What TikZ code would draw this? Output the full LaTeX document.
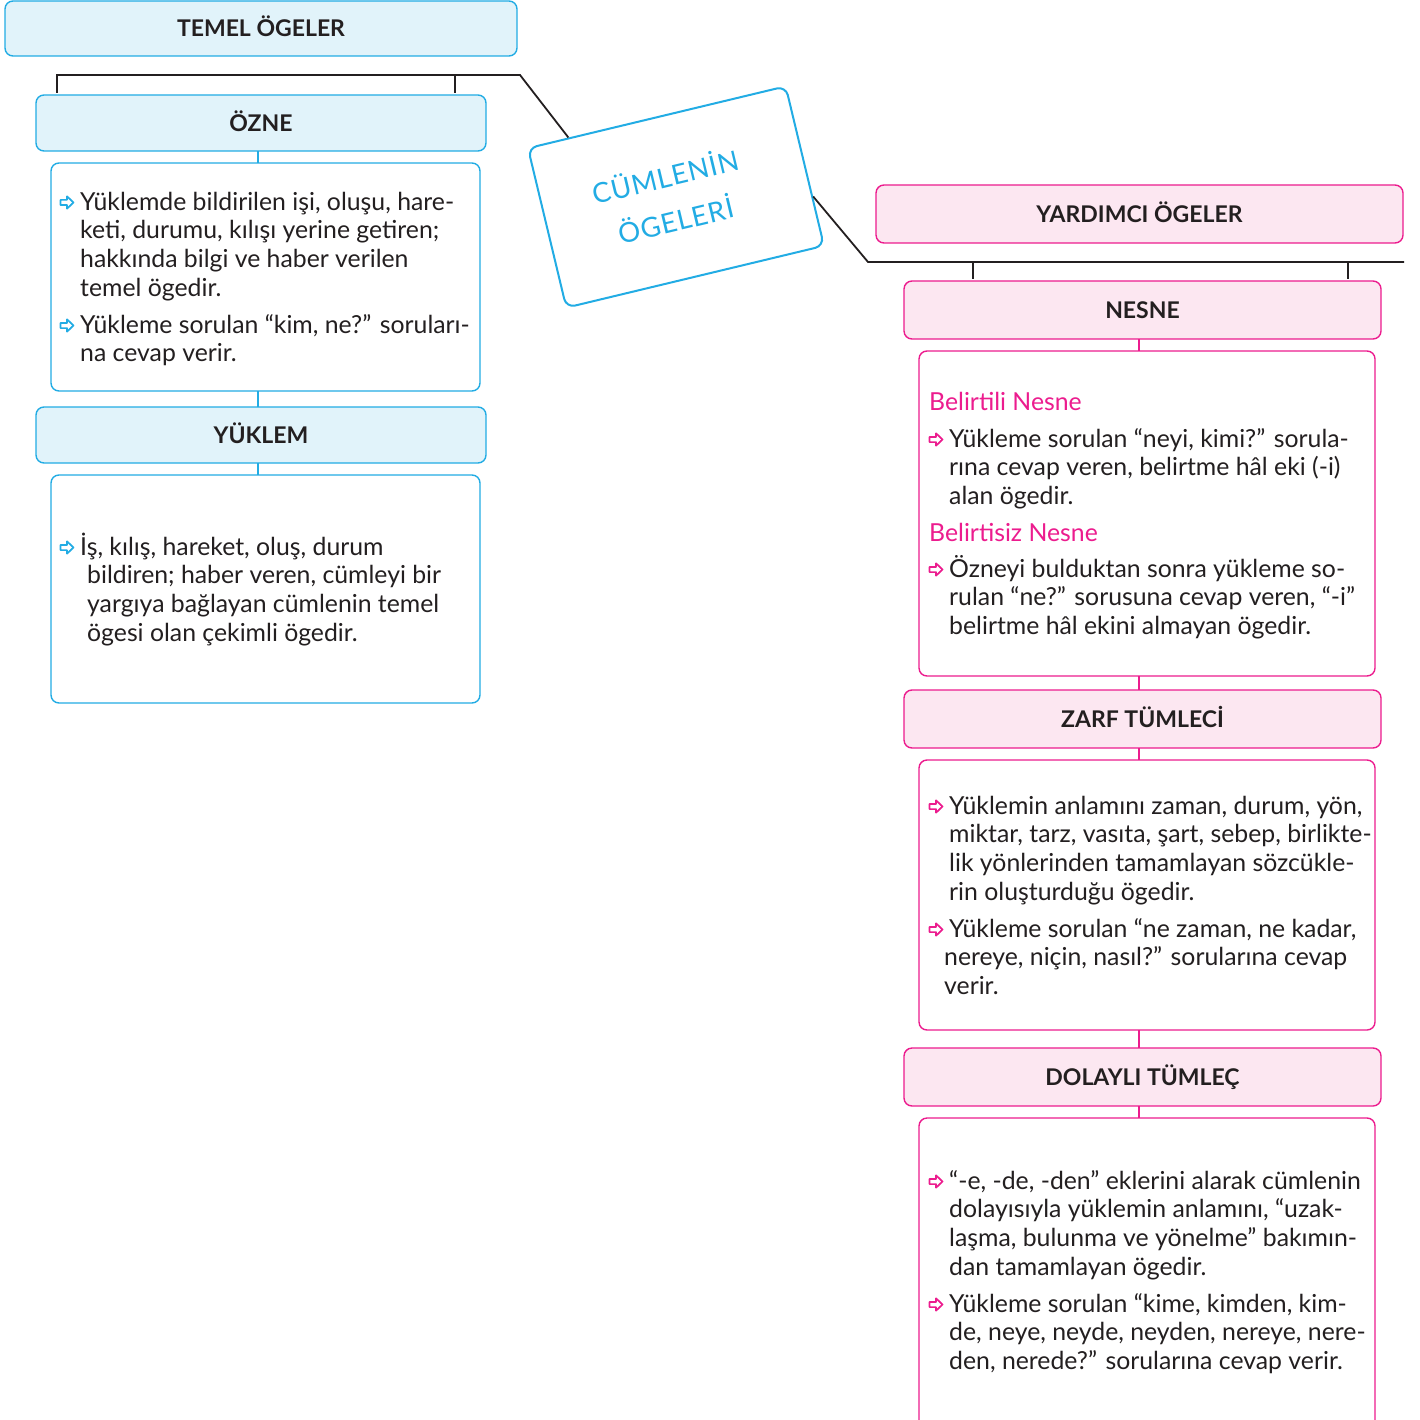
\documentclass[tikz,border=0pt]{standalone}
\usepackage{fontspec}
\setmainfont{Lato}
\newfontfamily\cardfont[LetterSpace=3]{Lato}
\usetikzlibrary{calc}
\definecolor{cyanb}{HTML}{22ACE4}
\definecolor{cyanf}{HTML}{E1F3FA}
\definecolor{magb}{HTML}{EC1C8E}
\definecolor{magf}{HTML}{FCE7F1}
\definecolor{ink}{HTML}{231F20}
\tikzset{
  box/.style={draw, rounded corners=8pt, line width=1.4pt, inner sep=0pt},
  headtxt/.style={font=\fontsize{23}{26}\selectfont\bfseries, text=ink, text height=16.5pt, text depth=0pt},
  bluehead/.style={box, draw=cyanb, fill=cyanf, headtxt},
  pinkhead/.style={box, draw=magb, fill=magf, headtxt},
  bluebody/.style={box, draw=cyanb, fill=white},
  pinkbody/.style={box, draw=magb, fill=white},
  bconn/.style={draw=cyanb, line width=2.6pt},
  pconn/.style={draw=magb, line width=2.6pt},
  bracket/.style={draw=ink, line width=1.8pt},
  % multi-line nodes: anchored at the baseline of their LAST line
  bodytxt/.style={anchor=base west, align=left, inner sep=0pt, text=ink,
    font=\fontsize{24.8}{28.7}\selectfont},
  subtxt/.style={anchor=base west, inner sep=0pt, text=magb,
    font=\fontsize{24.8}{28.7}\selectfont},
  bularrow/.pic={\draw[line width=1.7pt, line join=round]
     (0,-2.6) -- (6.5,-2.6) -- (6.5,-6.2) -- (13,0) -- (6.5,6.2) -- (6.5,2.6) -- (0,2.6) -- cycle;},
}
\begin{document}
\begin{tikzpicture}[x=1pt,y=-1pt]
\useasboundingbox (0,0) rectangle (1420,1420);
\clip (0,0) rectangle (1420,1420);

% ---------- left column ----------
\node[bluehead, minimum width=512pt, minimum height=55pt] (temel) at (261,28.5) {TEMEL ÖGELER};
\node[bluehead, minimum width=450pt, minimum height=56pt] (ozne) at (261,123) {ÖZNE};
\node[bluebody, minimum width=429pt, minimum height=228pt] (oznebox) at (265.5,277) {};
\node[bluehead, minimum width=450pt, minimum height=56pt] (yuklem) at (261,435) {YÜKLEM};
\node[bluebody, minimum width=429pt, minimum height=228pt] (yuklembox) at (265.5,589) {};

\draw[bconn] (258,151.5) -- (258,163);
\draw[bconn] (258,391) -- (258,407);
\draw[bconn] (258,463) -- (258,475);

\pic[draw=cyanb] at (60.5,202.5) {bularrow};
\node[bodytxt] (t1) at (80,296.1) {Yüklemde bildirilen işi, oluşu, hare-\\keti, durumu, kılışı yerine getiren;\\hakkında bilgi ve haber verilen\\temel ögedir.};
\pic[draw=cyanb] at (60.5,325.5) {bularrow};
\node[bodytxt] (t2) at (80,361.7) {Yükleme sorulan “kim, ne?” soruları-\\na cevap verir.};

\pic[draw=cyanb] at (60.5,547.5) {bularrow};
\node[bodytxt] (t3) at (80,641.1) {İş, kılış, hareket, oluş, durum\\\hspace*{7pt}bildiren; haber veren, cümleyi bir\\\hspace*{7pt}yargıya bağlayan cümlenin temel\\\hspace*{7pt}ögesi olan çekimli ögedir.};

% ---------- card ----------
\node[draw=cyanb, fill=white, line width=2pt, rounded corners=9pt, rotate=13.5,
      minimum width=265pt, minimum height=164pt, inner sep=0pt] (card) at (676,197) {};
\node[rotate=13.5, align=center, text=cyanb, inner sep=0pt,
      font=\cardfont\fontsize{27.5}{45}\selectfont] (cardtxt) at (670,197) {CÜMLENİN\\ÖGELERİ};

\coordinate (cl) at ($(card.north west)!0.16!(card.north east)$);
\coordinate (cr) at ($(card.north east)!0.69!(card.south east)$);

\draw[bracket] (57,93) -- (57,75) -- (520,75) -- (cl);
\draw[bracket] (455,75) -- (455,93);
\draw[bracket] (cr) -- (868,262) -- (1404,262);
\draw[bracket] (973,262) -- (973,279);
\draw[bracket] (1348,262) -- (1348,279);

% ---------- right column ----------
\node[pinkhead, minimum width=527pt, minimum height=58pt] (yard) at (1139.5,214) {YARDIMCI ÖGELER};
\node[pinkhead, minimum width=477pt, minimum height=58pt] (nesne) at (1142.5,310) {NESNE};
\node[pinkbody, minimum width=456pt, minimum height=325pt] (nesnebox) at (1147,513.5) {};
\node[pinkhead, minimum width=477pt, minimum height=58pt] (zarf) at (1142.5,719) {ZARF TÜMLECİ};
\node[pinkbody, minimum width=456pt, minimum height=270pt] (zarfbox) at (1147,895) {};
\node[pinkhead, minimum width=477pt, minimum height=58pt] (dol) at (1142.5,1077) {DOLAYLI TÜMLEÇ};
\node[pinkbody, minimum width=456pt, minimum height=322pt] (dolbox) at (1147,1279) {};

\draw[pconn] (1139,339) -- (1139,351);
\draw[pconn] (1139,676) -- (1139,690);
\draw[pconn] (1139,748) -- (1139,760);
\draw[pconn] (1139,1030) -- (1139,1048);
\draw[pconn] (1139,1106) -- (1139,1118);

\node[subtxt] (s1) at (929,410) {Belirtili Nesne};
\pic[draw=magb] at (929.5,439.5) {bularrow};
\node[bodytxt] (t4) at (949,504.4) {Yükleme sorulan “neyi, kimi?” sorula-\\rına cevap veren, belirtme hâl eki (-i)\\alan ögedir.};
\node[subtxt] (s2) at (929,541) {Belirtisiz Nesne};
\pic[draw=magb] at (929.5,569.5) {bularrow};
\node[bodytxt] (t5) at (949,634.4) {Özneyi bulduktan sonra yükleme so-\\rulan “ne?” sorusuna cevap veren, “-i”\\belirtme hâl ekini almayan ögedir.};

\pic[draw=magb] at (929.5,806.5) {bularrow};
\node[bodytxt] (t6) at (949,900.1) {Yüklemin anlamını zaman, durum, yön,\\miktar, tarz, vasıta, şart, sebep, birlikte-\\lik yönlerinden tamamlayan sözcükle-\\rin oluşturduğu ögedir.};
\pic[draw=magb] at (929.5,929.5) {bularrow};
\node[bodytxt] (t7) at (949,994.4) {Yükleme sorulan “ne zaman, ne kadar,\\\hspace*{-5pt}nereye, niçin, nasıl?” sorularına cevap\\\hspace*{-5pt}verir.};

\pic[draw=magb] at (929.5,1181.5) {bularrow};
\node[bodytxt] (t8) at (949,1275.1) {“-e, -de, -den” eklerini alarak cümlenin\\dolayısıyla yüklemin anlamını, “uzak-\\laşma, bulunma ve yönelme” bakımın-\\dan tamamlayan ögedir.};
\pic[draw=magb] at (929.5,1304.5) {bularrow};
\node[bodytxt] (t9) at (949,1369.4) {Yükleme sorulan “kime, kimden, kim-\\de, neye, neyde, neyden, nereye, nere-\\den, nerede?” sorularına cevap verir.};
\end{tikzpicture}
\end{document}
